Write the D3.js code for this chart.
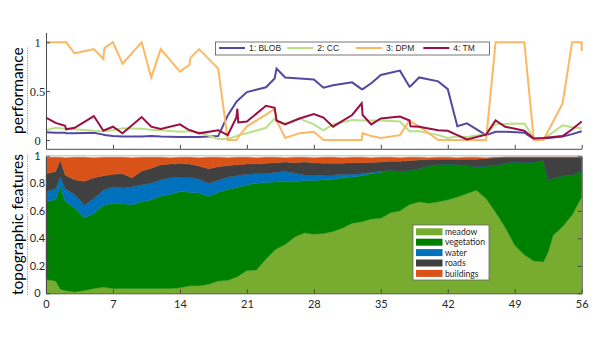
<!DOCTYPE html>
<html><head><meta charset="utf-8">
<script src="https://cdn.jsdelivr.net/npm/d3@7"></script>
<style>body{margin:0;background:#fff} svg{display:block}</style>
</head><body>
<svg id="c" width="600" height="338"></svg>
<script>
// ---- top panel data ----
const perfX = [0,1,2,2.1,3,5,6,6.1,7,8, 10,11,12,14,15,15.1,16,18,19,19.9, 20,20.1,21,23,23.9,24.1,25,26.5,28,29, 30,32,33,33.1,34,35,37,38,38.1,39, 41,42,43,44,46,47,48,50,51,52, 54,55,56,56];
const blob = [.08,.075,.075,.07,.07,.075,.055,.05,.04,.035, .035,.04,.035,.03,.03,.03,.03,.04,.25,.39, .40,.41,.49,.54,.63,.73,.64,.63,.62,.535, .56,.59,.52,.52,.58,.665,.71,.545,.55,.64, .60,.52,.14,.17,.05,.085,.085,.075,.01,.015, .035,.06,.09,.09];
const cc = [.10,.125,.115,.115,.11,.095,.09,.09,.10,.12, .115,.105,.10,.085,.09,.09,.08,.01,.01,.04, .045,.05,.07,.125,.22,.19,.17,.22,.16,.10, .16,.205,.20,.20,.20,.20,.19,.09,.09,.09, .05,.02,.035,.03,.06,.16,.165,.17,.02,.01, .15,.13,.12,.12];
const dpm = [1,1,1,1,.887,.93,.83,.94,1,.78, 1,.64,.93,.70,.77,.84,.93,.73,0,0, .015,.03,.14,.26,.32,.2,.02,.07,.085,0, 0,0,0,.07,.04,.02,.05,.2,.19,.14, 0,0,0,0,0,1,1,1,0,0, .375,1,1,.91];
const tm = [.23,.175,.145,.11,.125,.245,.095,.10,.136,.068, .235,.136,.113,.16,.10,.10,.068,.10,.05,.23, .32,.18,.19,.35,.33,.20,.16,.22,.265,.23, .136,.256,.375,.256,.16,.22,.24,.20,.14,.136, .10,.095,.05,.005,.055,.20,.136,.095,.015,.02, .04,.11,.19,.19];
const seriesNames = ["1: BLOB","2: CC","3: DPM","4: TM"];
const seriesColors = ["#5447a2","#b8e186","#fdb863","#9b0d45"];
const perfTicks = [0,0.5,1];

// ---- bottom panel data ----
const frameX = [0,1,1.5,2,3,4,5,6,7,8,9,10,11,12,13,14,15,16,17,18,19,20,21,22,23,24,25,26,27,28,29,30,31,32,33,34,35,36,37,38,39,40,41,42,43,44,45,46,47,48,49,50,51,52,52.5,53,54,55,56];
const meadow = [.10,.09,.03, .02,.01,.02,.035,.045,.035,.035,.035,.035,.035, .035,.035,.04,.055,.055,.065,.09,.095,.12,.165, .17,.25,.32,.355,.41,.44,.43,.435,.45,.475, .51,.52,.54,.545,.585,.60,.645,.665,.655,.665, .68,.70,.725,.75,.69,.59,.48,.35,.28,.235, .23,.30,.42,.485,.57,.70];
const vegetation = [.57,.59,.75, .65,.61,.53,.545,.595,.62,.615,.61,.63,.645, .67,.685,.70,.68,.675,.64,.645,.66,.65,.625, .63,.555,.49,.46,.40,.38,.39,.39,.38,.365, .335,.335,.33,.335,.31,.29,.25,.24,.27,.27, .26,.235,.205,.17,.235,.34,.465,.605,.67,.72, .735,.52,.415,.37,.29,.185];
const water = [.07,.08,.07, .09,.10,.09,.11,.11,.12,.115,.13,.125,.12, .12,.12,.105,.11,.10,.095,.085,.09,.085,.075, .07,.065,.07,.07,.065,.04,.035,.035,.03,.025, .02,.015,.01,.005,0,0,0,0,0,0, 0,0,0,0,0,0,0,0,0,0, 0,0,0,0,0,0];
const roads = [.13,.125,.12, .10,.105,.175,.15,.105,.09,.105,.065,.10,.11, .11,.10,.10,.095,.095,.105,.10,.085,.08,.075, .07,.075,.07,.07,.075,.095,.095,.085,.085,.08, .085,.08,.072,.07,.065,.07,.07,.065,.05,.04, .035,.04,.045,.055,.055,.055,.045,.035,.04,.035, .025,.17,.155,.135,.13,.105];
const buildings = [.12,.105,.02, .125,.165,.175,.145,.135,.125,.12,.145,.10,.08, .055,.045,.045,.05,.06,.085,.07,.055,.055,.05, .045,.045,.04,.03,.04,.035,.035,.045,.045,.04, .04,.04,.033,.035,.03,.025,.025,.02,.01,.015, .015,.01,.015,.015,.005,.005,0,0,0,0, 0,0,0,0,0,0];
const layerNames = ["meadow","vegetation","water","roads","buildings"];
const layerColors = ["#77ac30","#008000","#0072bd","#404040","#d95319"];
const topoTicks = [0,0.2,0.4,0.6,0.8,1];
const xTicks = [0,7,14,21,28,35,42,49,56];

const svg = d3.select("#c");
const axisColor = "#4a4a4a";
const x = d3.scaleLinear([0,56],[46,581.7]);
const yTop = d3.scaleLinear([-0.09,1.1],[148.8,32.5]);
const yBot = d3.scaleLinear([0,1],[293.3,155.8]);

// ---- bottom stacked area ----
const rows = frameX.map((fx,i)=>({x:fx, meadow:meadow[i], vegetation:vegetation[i], water:water[i], roads:roads[i], buildings:buildings[i]}));
const stacked = d3.stack().keys(layerNames)(rows);
const area = d3.area().x(d=>x(d.data.x)).y0(d=>yBot(d[0])).y1(d=>yBot(d[1]));
svg.append("g").selectAll("path").data(stacked).join("path")
  .attr("d", area).attr("fill",(d,i)=>layerColors[i]).attr("stroke",(d,i)=>layerColors[i]).attr("stroke-width",0.4);

// bottom axes
function styleAxis(g){
  g.selectAll("path.domain").attr("stroke",axisColor);
  g.selectAll(".tick line").attr("stroke",axisColor);
  g.selectAll(".tick text").attr("fill","#262626");
}
const fmt = d=>String(d);
svg.append("g").attr("transform",`translate(0,${yBot(0)})`)
  .call(d3.axisBottom(x).tickValues(xTicks).tickSize(-4).tickSizeOuter(0).tickPadding(7).tickFormat(fmt))
  .call(styleAxis).call(g=>g.selectAll("text").attr("font-family","Lato").attr("font-size",11));
svg.append("g").attr("transform",`translate(${x(0)},0)`)
  .call(d3.axisLeft(yBot).tickValues(topoTicks).tickSize(-4).tickSizeOuter(0).tickFormat(fmt))
  .call(styleAxis).call(g=>g.selectAll("text").attr("font-family","Lato").attr("font-size",11).attr("text-anchor","middle").attr("x",-8.5));
svg.append("g").attr("transform",`translate(${x(56)},0)`)
  .call(d3.axisRight(yBot).tickValues(topoTicks).tickSize(-4).tickSizeOuter(0).tickFormat(""))
  .call(styleAxis);
svg.append("line").attr("x1",x(0)).attr("x2",x(56)).attr("y1",yBot(1)).attr("y2",yBot(1)).attr("stroke","#bbb").attr("stroke-width",1);

// bottom legend
const lg2 = svg.append("g");
lg2.append("rect").attr("x",413).attr("y",225).attr("width",76).attr("height",55).attr("fill","#fff").attr("stroke","#666").attr("stroke-width",0.8);
layerNames.forEach((n,i)=>{
  const yy = 228.3 + i*10.4;
  lg2.append("rect").attr("x",416).attr("y",yy).attr("width",26.5).attr("height",7).attr("fill",layerColors[i]);
  lg2.append("text").attr("x",445).attr("y",yy+6.6).text(n).attr("font-family","Lato").attr("font-size",8.6).attr("fill","#262626");
});

// ---- top panel ----
const line = d3.line().x((d,i)=>x(perfX[i])).y(d=>yTop(d));
const perfSeries = [blob, cc, dpm, tm];
svg.append("g").selectAll("path").data(perfSeries).join("path")
  .attr("d", line).attr("fill","none").attr("stroke",(d,i)=>seriesColors[i]).attr("stroke-width",2);

svg.append("g").attr("transform",`translate(0,${yTop(-0.09)})`)
  .call(d3.axisBottom(x).tickValues(xTicks).tickSize(-4).tickSizeOuter(0).tickFormat(""))
  .call(styleAxis);
svg.append("g").attr("transform",`translate(${x(0)},0)`)
  .call(d3.axisLeft(yTop).tickValues(perfTicks).tickSize(-4).tickSizeOuter(0).tickFormat(fmt))
  .call(styleAxis).call(g=>g.selectAll("text").attr("font-family","Liberation Serif").attr("font-size",12.5).attr("text-anchor","middle").attr("x",-8.5));

// top legend
const lg1 = svg.append("g");
lg1.append("rect").attr("x",215.5).attr("y",42).attr("width",274).attr("height",13).attr("fill","#fff").attr("stroke","#555").attr("stroke-width",0.8);
const legX = [219, 287.3, 356, 423.3];
seriesNames.forEach((n,i)=>{
  lg1.append("line").attr("x1",legX[i]).attr("x2",legX[i]+26).attr("y1",48).attr("y2",48).attr("stroke",seriesColors[i]).attr("stroke-width",2);
  lg1.append("text").attr("x",legX[i]+30).attr("y",51.3).text(n).attr("font-family","Liberation Sans").attr("font-size",8.5).attr("fill","#262626");
});

// y titles with spell-check style underline
function yTitle(label, cx, cy){
  const g = svg.append("g").attr("transform",`translate(${cx},${cy}) rotate(-90)`);
  const t = g.append("text").attr("text-anchor","middle").attr("font-family","Lato").attr("font-size",15.5).attr("fill","#000").text(label);
  const node = t.node();
  const L = node.getComputedTextLength();
  let start = -L/2, idx = 0;
  label.split(" ").forEach(w=>{
    const wl = node.getSubStringLength(idx, w.length);
    g.append("line").attr("x1",start).attr("x2",start+wl).attr("y1",4.5).attr("y2",4.5)
      .attr("stroke","#f08a8a").attr("stroke-width",1).attr("stroke-dasharray","1.5,1");
    const sp = idx + w.length < label.length ? node.getSubStringLength(idx + w.length, 1) : 0;
    start += wl + sp; idx += w.length + 1;
  });
}
yTitle("performance", 23, (yTop(1.1)+yTop(-0.09))/2);
yTitle("topographic features", 23, (yBot(0)+yBot(1))/2);
</script>
</body></html>
